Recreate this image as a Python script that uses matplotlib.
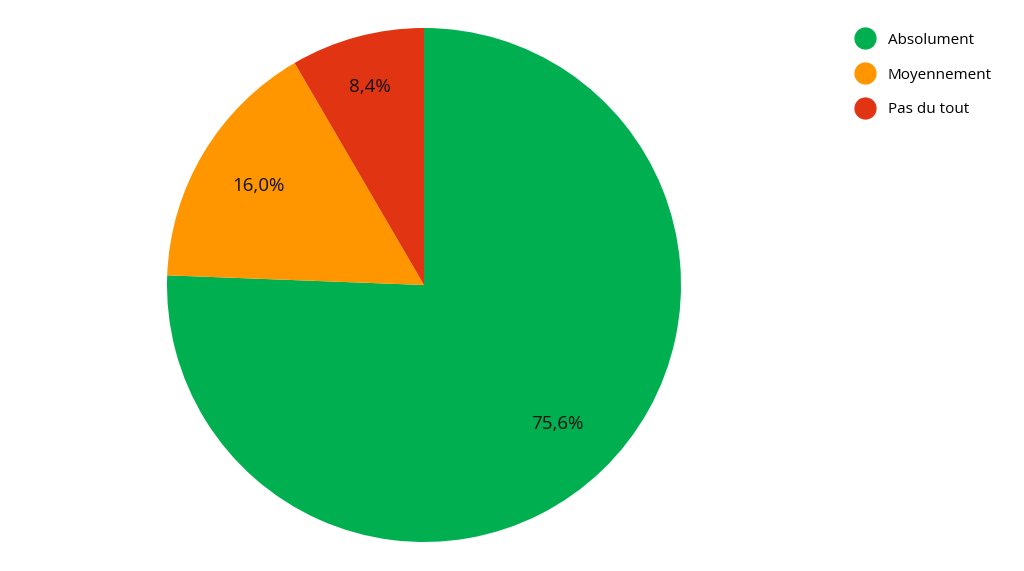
import numpy as np
import matplotlib.pyplot as plt
from matplotlib.lines import Line2D

plt.rcParams['font.family'] = ['Open Sans', 'DejaVu Sans']

# Data
categories = ['Absolument', 'Moyennement', 'Pas du tout']
values = [75.6, 16.0, 8.4]
colors = ['#00B050', '#FF9600', '#E03413']

fig = plt.figure(figsize=(10.24, 5.71), dpi=100)
ax = fig.add_axes([167 / 1024, 29 / 571, 514 / 1024, 514 / 571])

wedges, texts, autotexts = ax.pie(
    values, colors=colors, startangle=90, counterclock=False,
    autopct=lambda p: f'{p:.1f}%'.replace('.', ','), pctdistance=0.75,
    wedgeprops=dict(linewidth=0), textprops=dict(fontsize=13.5, color='#111111'))

# the small red slice label sits a bit further out
w = wedges[2]
mid = np.deg2rad((w.theta1 + w.theta2) / 2)
autotexts[2].set_position((0.8 * np.cos(mid), 0.8 * np.sin(mid)))

ax.set_xlim(-1, 1)
ax.set_ylim(-1, 1)
ax.set_aspect('equal')
ax.axis('off')

handles = [Line2D([0], [0], marker='o', linestyle='', markersize=15,
                  markerfacecolor=c, markeredgecolor=c) for c in colors]
fig.legend(handles, categories, loc='upper left', bbox_to_anchor=(842 / 1024, 1 - 19 / 571),
           frameon=False, fontsize=11, handletextpad=0.9, labelspacing=1.3,
           handlelength=1.2)

fig.savefig('out.png', dpi=100)
